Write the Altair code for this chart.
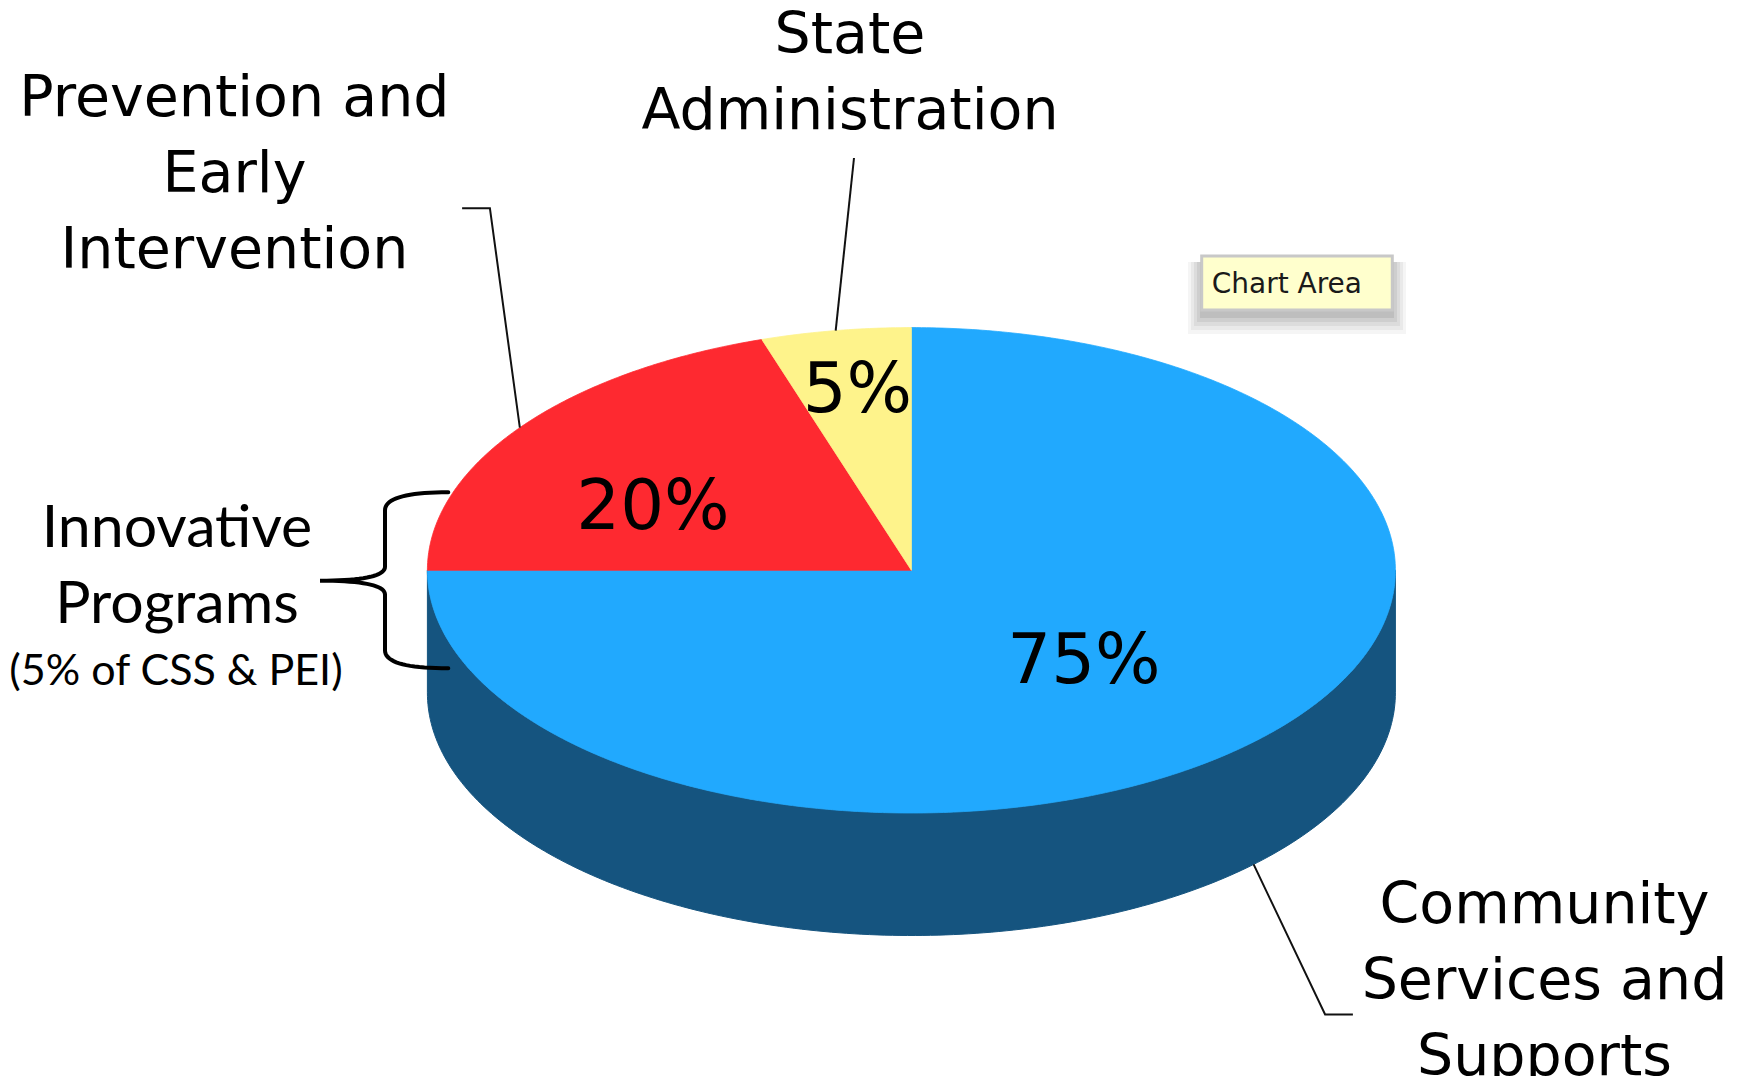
import altair as alt
import numpy as np
import pandas as pd

# ---------------- data ----------------
categories = ["Community Services and Supports",
              "Prevention and Early Intervention",
              "State Administration"]
shares = [75, 20, 5]
pct_labels = ["75%", "20%", "5%"]
top_colors = ["#21a9fe", "#fe2930", "#fef38b"]
side_colors = ["#15547f", "#9c1a1f", "#a59c55"]

label_lines = {
    "State Administration": ["State", "Administration"],
    "Prevention and Early Intervention": ["Prevention and", "Early", "Intervention"],
    "Community Services and Supports": ["Community", "Services and", "Supports"],
}
innov_lines = ["Innovative", "Programs"]
innov_note = "(5% of CSS & PEI)"
tooltip_text = "Chart Area"

# ---------------- layout (pixels of the plot area) ----------------
W, H = 1730, 1068
CX, CY = 903.4, 562.3
RX, RY = 484.0, 242.7
DEPTH = 122.5


def edge(theta, depth=0.0):
    return CX + RX * np.sin(theta), CY - RY * np.cos(theta) + depth


# top faces and side walls from the shares
top_rows, side_rows = [], []
cum = 0.0
mids = []
for cat, sh, tc, sc in zip(categories, shares, top_colors, side_colors):
    a0 = cum / 100 * 2 * np.pi
    a1 = (cum + sh) / 100 * 2 * np.pi
    cum += sh
    mids.append((a0 + a1) / 2)
    ts = np.linspace(a0, a1, max(int(sh * 6), 12))
    pts = [(CX, CY)] + [edge(t) for t in ts] + [(CX, CY)]
    for i, (x, y) in enumerate(pts):
        top_rows.append(dict(cat=cat, i=i, x=x, y=y, col=tc))
    lo, hi = max(a0, np.pi / 2), min(a1, 3 * np.pi / 2)
    if hi > lo:
        ss = np.linspace(lo, hi, 200)
        pts = [edge(t) for t in ss] + [edge(t, DEPTH) for t in ss[::-1]]
        pts.append(pts[0])
        for i, (x, y) in enumerate(pts):
            side_rows.append(dict(cat=cat, i=i, x=x, y=y, col=sc))

top_df = pd.DataFrame(top_rows)
side_df = pd.DataFrame(side_rows)

# leader lines: anchored at slice mid-angles on the pie rim
leader_rows = []
ex, ey = edge(mids[1])
for i, (x, y) in enumerate([(454.1, 200.2), (481.9, 200.2), (ex, ey)]):
    leader_rows.append(dict(k="pei", i=i, x=x, y=y))
ex, ey = edge(mids[2])
for i, (x, y) in enumerate([(846.0, 150.0), (ex, ey)]):
    leader_rows.append(dict(k="sa", i=i, x=x, y=y))
ex, ey = edge(mids[0], DEPTH)
for i, (x, y) in enumerate([(ex, ey), (1317.1, 1006.4), (1344.9, 1006.4)]):
    leader_rows.append(dict(k="css", i=i, x=x, y=y))
leader_df = pd.DataFrame(leader_rows)


# curly brace
def qbez(p0, c, p1, n=20):
    t = np.linspace(0, 1, n)[:, None]
    p0, c, p1 = map(np.array, (p0, c, p1))
    return ((1 - t) ** 2 * p0 + 2 * (1 - t) * t * c + t ** 2 * p1).tolist()


bx, tipx = 377.0, 312.0
top_y, mid_y, bot_y, endx = 484.3, 572.7, 660.3, 440.3
brace = []
brace += qbez((endx, top_y), (bx, top_y), (bx, top_y + 18))
brace += qbez((bx, top_y + 18), (bx, mid_y - 14), (bx, mid_y - 14), 2)
brace += qbez((bx, mid_y - 14), (bx, mid_y), (tipx, mid_y))
brace += qbez((tipx, mid_y), (bx, mid_y), (bx, mid_y + 14))
brace += qbez((bx, mid_y + 14), (bx, bot_y - 18), (bx, bot_y - 18), 2)
brace += qbez((bx, bot_y - 18), (bx, bot_y), (endx, bot_y))
brace_df = pd.DataFrame([dict(k="brace", i=i, x=p[0], y=p[1]) for i, p in enumerate(brace)])

# text
big_rows = []
for cat, (cx, y0) in zip(["Prevention and Early Intervention", "State Administration",
                          "Community Services and Supports"],
                         [(226.4, 107.5), (842.0, 44.7), (1536.5, 914.5)]):
    for j, line in enumerate(label_lines[cat]):
        big_rows.append(dict(text=line, x=cx, y=y0 + j * 76.2, size=57))
for t, (x, y) in zip(pct_labels, [(1076.0, 675.3), (645.0, 520.5), (849.4, 404.0)]):
    big_rows.append(dict(text=t, x=x, y=y, size=69))
big_df = pd.DataFrame(big_rows)

innov_df = pd.DataFrame([
    dict(text=innov_lines[0], x=169.0, y=539.3, size=59),
    dict(text=innov_lines[1], x=169.0, y=614.7, size=59),
    dict(text=innov_note, x=168.0, y=676.5, size=43),
])

box_df = pd.DataFrame([dict(x=1193.7, x2=1384.3, y=248.0, y2=302.0)])
shadow_df = pd.DataFrame([
    dict(x=1180.0, x2=1398.0, y=254.0, y2=326.0, o=0.05),
    dict(x=1183.0, x2=1395.0, y=254.0, y2=322.0, o=0.06),
    dict(x=1186.0, x2=1392.0, y=254.0, y2=318.0, o=0.07),
    dict(x=1189.0, x2=1389.0, y=254.0, y2=314.0, o=0.08),
    dict(x=1192.0, x2=1386.0, y=254.0, y2=310.0, o=0.10),
])
tip_df = pd.DataFrame([dict(text=tooltip_text, x=1203.7, y=285.3)])

# ---------------- chart ----------------
xs = alt.Scale(domain=[0, W], nice=False, zero=False)
ys = alt.Scale(domain=[0, H], reverse=True, nice=False, zero=False)


def X(f="x"):
    return alt.X(f"{f}:Q", scale=xs, axis=None)


def Y(f="y"):
    return alt.Y(f"{f}:Q", scale=ys, axis=None)


side = alt.Chart(side_df).mark_line(filled=True, strokeWidth=1, interpolate="linear-closed").encode(
    x=X(), y=Y(), detail="cat:N", order="i:Q",
    color=alt.Color("col:N", scale=None), stroke=alt.Stroke("col:N", scale=None))

top = alt.Chart(top_df).mark_line(filled=True, strokeWidth=0.8, interpolate="linear-closed").encode(
    x=X(), y=Y(), detail="cat:N", order="i:Q",
    color=alt.Color("col:N", scale=None), stroke=alt.Stroke("col:N", scale=None))

leaders = alt.Chart(leader_df).mark_line(color="#111111", strokeWidth=2).encode(
    x=X(), y=Y(), detail="k:N", order="i:Q")

brace_l = alt.Chart(brace_df).mark_line(color="black", strokeWidth=4, strokeCap="round").encode(
    x=X(), y=Y(), detail="k:N", order="i:Q")

big_text = alt.Chart(big_df).mark_text(font="DejaVu Sans", align="center", baseline="alphabetic",
                                       color="black").encode(
    x=X(), y=Y(), text="text:N", size=alt.Size("size:Q", scale=None))

innov_text = alt.Chart(innov_df).mark_text(font="Lato", align="center", baseline="alphabetic",
                                           color="black").encode(
    x=X(), y=Y(), text="text:N", size=alt.Size("size:Q", scale=None))

shadow = alt.Chart(shadow_df).mark_rect(color="#333333").encode(
    x=X(), x2="x2:Q", y=Y(), y2="y2:Q", opacity=alt.Opacity("o:Q", scale=None))

box = alt.Chart(box_df).mark_rect(fill="#ffffcd", stroke="#c8c8c8", strokeWidth=3).encode(
    x=X(), x2="x2:Q", y=Y(), y2="y2:Q")

tip = alt.Chart(tip_df).mark_text(font="DejaVu Sans", fontSize=28, align="left", baseline="alphabetic",
                                  color="#1a1a1a").encode(x=X(), y=Y(), text="text:N")

chart = alt.layer(side, top, leaders, brace_l, big_text, innov_text, shadow, box, tip).properties(
    width=W, height=H, padding=0, autosize="none", background="white"
).configure_view(strokeWidth=0)

chart.save("out.html", embed_options={"renderer": "svg", "actions": False})
